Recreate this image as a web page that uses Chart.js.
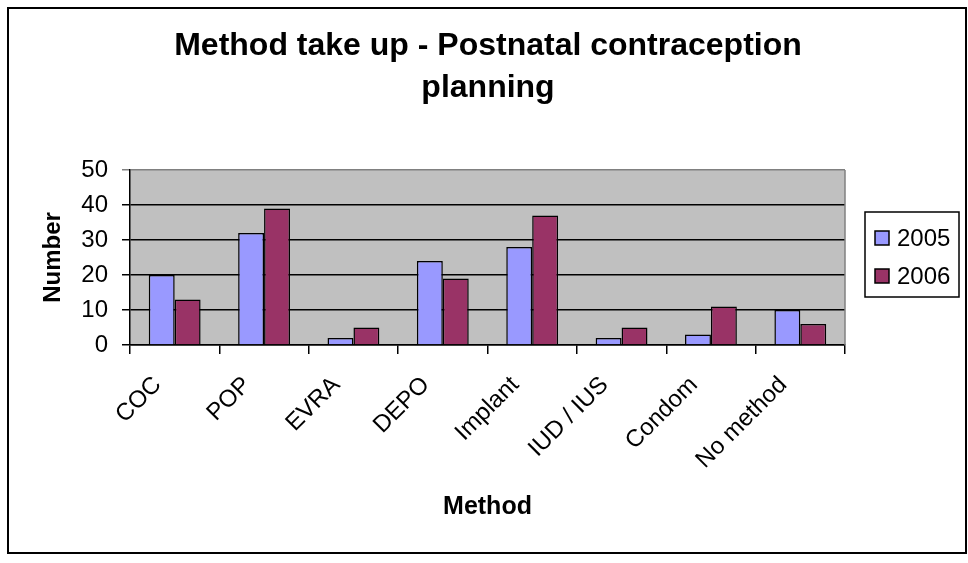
<!DOCTYPE html>
<html>
<head>
<meta charset="utf-8">
<script src="https://cdn.jsdelivr.net/npm/chart.js@4/dist/chart.umd.min.js"></script>
<style>
  html, body { margin: 0; padding: 0; background: #fff; }
  #wrap { width: 968px; height: 563px; position: relative; }
</style>
</head>
<body>
<div id="wrap"><canvas id="chart" width="968" height="563"></canvas></div>
<script>
'use strict';

/* ── Data ───────────────────────────────────────────────────────── */
const categories = ['COC', 'POP', 'EVRA', 'DEPO', 'Implant', 'IUD / IUS', 'Condom', 'No method'];
const values2005 = [20, 32, 2, 24, 28, 2, 3, 10];
const values2006 = [13, 39, 5, 19, 37, 5, 11, 6];
const seriesLabels = ['2005', '2006'];
const seriesColors = ['#9999FF', '#993366'];
const yTicks = [0, 10, 20, 30, 40, 50];
const titleLines = ['Method take up - Postnatal contraception', 'planning'];

const FONT = "'Liberation Sans', Arial, sans-serif";

/* ── Frame, title, plot background and right-hand legend ────────── */
const excelFrame = {
  id: 'excelFrame',
  beforeDraw(chart) {
    const { ctx, chartArea: a } = chart;
    ctx.save();
    ctx.fillStyle = '#fff';
    ctx.fillRect(0, 0, chart.width, chart.height);
    ctx.strokeStyle = '#000';
    ctx.lineWidth = 2;
    ctx.strokeRect(8, 8, 958, 545);
    ctx.fillStyle = '#C0C0C0';
    ctx.fillRect(a.left, a.top, a.right - a.left, a.bottom - a.top);
    ctx.restore();
  },
  afterDraw(chart) {
    const { ctx, chartArea: a } = chart;
    ctx.save();
    // chart title (centred on the whole frame, like Excel)
    ctx.fillStyle = '#000';
    ctx.font = 'bold 32px ' + FONT;
    ctx.textAlign = 'center';
    ctx.textBaseline = 'alphabetic';
    titleLines.forEach((t, i) => ctx.fillText(t, 488, 55 + i * 42));

    // gray plot border on the right
    ctx.strokeStyle = '#808080';
    ctx.lineWidth = 1.5;
    ctx.beginPath();
    ctx.moveTo(a.right, a.top);
    ctx.lineTo(a.right, a.bottom);
    ctx.stroke();

    // legend box
    ctx.textAlign = 'left';
    ctx.fillStyle = '#fff';
    ctx.fillRect(865, 212, 94, 85);
    ctx.strokeStyle = '#000';
    ctx.lineWidth = 1.5;
    ctx.strokeRect(865, 212, 94, 85);
    ctx.font = '24px ' + FONT;
    ctx.textBaseline = 'middle';
    seriesLabels.forEach((lbl, i) => {
      const y = 238 + i * 38;
      ctx.fillStyle = seriesColors[i];
      ctx.fillRect(875, y - 7, 14, 14);
      ctx.strokeRect(875, y - 7, 14, 14);
      ctx.fillStyle = '#000';
      ctx.fillText(lbl, 897, y + 1);
    });
    ctx.restore();
  }
};

/* ── Chart ──────────────────────────────────────────────────────── */
new Chart(document.getElementById('chart'), {
  type: 'bar',
  data: {
    labels: categories,
    datasets: [
      {
        label: seriesLabels[0],
        data: values2005,
        backgroundColor: seriesColors[0],
        borderColor: '#000',
        borderWidth: 1.5,
        categoryPercentage: 0.58,
        barPercentage: 1,
      },
      {
        label: seriesLabels[1],
        data: values2006,
        backgroundColor: seriesColors[1],
        borderColor: '#000',
        borderWidth: 1.5,
        categoryPercentage: 0.58,
        barPercentage: 1,
      },
    ],
  },
  options: {
    responsive: false,
    animation: false,
    layout: { padding: { left: 10, right: 123, top: 170, bottom: 10 } },
    plugins: {
      legend: { display: false },
      tooltip: { enabled: false },
      title: { display: false },
    },
    scales: {
      x: {
        grid: {
          display: true,
          drawOnChartArea: false,
          drawTicks: true,
          tickLength: 9,
          color: '#000',
          lineWidth: 1.5,
        },
        border: { display: true, color: '#000', width: 1.5 },
        ticks: {
          color: '#000',
          font: { family: FONT, size: 24 },
          maxRotation: 45,
          minRotation: 45,
          padding: 17,
          labelOffset: -17,
        },
        title: {
          display: true,
          text: 'Method',
          color: '#000',
          font: { family: FONT, size: 25, weight: 'bold' },
          padding: { top: 0, bottom: 31 },
        },
        afterFit(s) { s.height = 208; },
      },
      y: {
        min: 0,
        max: 50,
        afterBuildTicks(s) { s.ticks = yTicks.map(v => ({ value: v })); },
        grid: {
          color: ctx => (ctx.tick && ctx.tick.value === 50 ? '#808080' : '#000'),
          lineWidth: 1.5,
          tickLength: 8,
          drawTicks: true,
        },
        border: { display: true, color: '#000', width: 1.5 },
        ticks: {
          color: '#000',
          font: { family: FONT, size: 24 },
          padding: 14,
        },
        title: {
          display: true,
          text: 'Number',
          color: '#000',
          font: { family: FONT, size: 24, weight: 'bold' },
          padding: { top: 29, bottom: 0 },
        },
        afterFit(s) { s.width = 120; },
      },
    },
  },
  plugins: [excelFrame],
});
</script>
</body>
</html>
